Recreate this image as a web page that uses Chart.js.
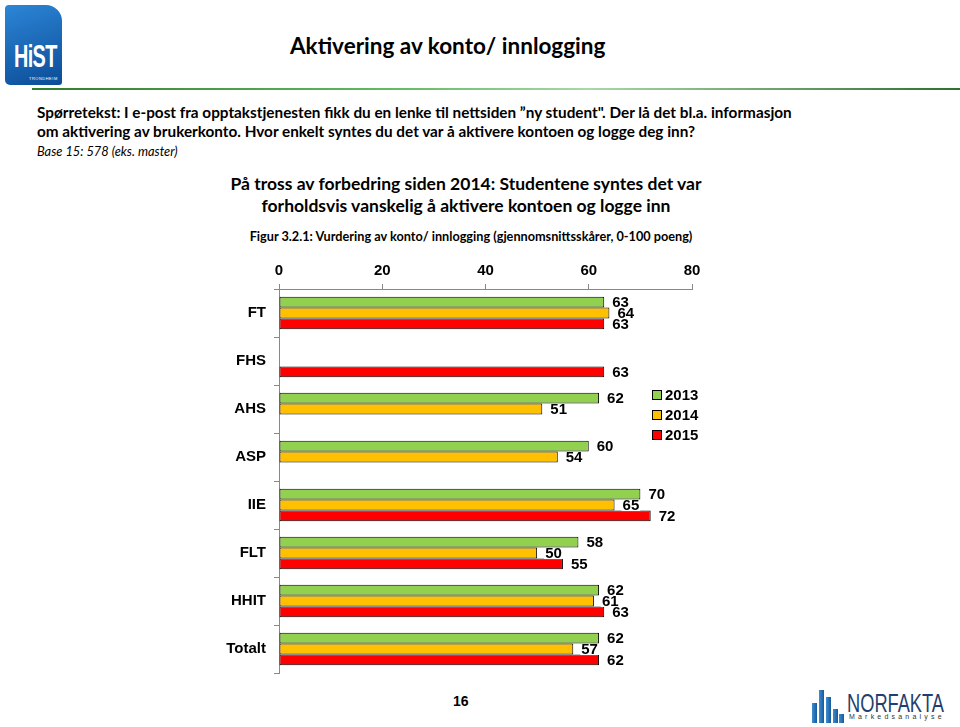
<!DOCTYPE html>
<html>
<head>
<meta charset="utf-8">
<script src="https://cdn.jsdelivr.net/npm/chart.js@4"></script>
<style>
  body { margin: 0; background: #fff; }
  .page { position: relative; width: 960px; height: 727px; overflow: hidden; font-family: Lato, "Open Sans", sans-serif; color: #000; }
  .abs { position: absolute; white-space: nowrap; }
  .hist { left: 5px; top: 5px; width: 57px; height: 80px; border-radius: 4px 16px 3px 5px; background: linear-gradient(160deg, #2c86d6, #0b4c98); }
  .hist b { position: absolute; left: 9px; top: 33px; color: #fff; font: bold 32px "Liberation Sans", Arial, sans-serif; letter-spacing: -1px; transform: scaleX(0.62); transform-origin: 0 0; }
  .hist i { position: absolute; left: 24px; top: 71px; color: #fff; font: normal 4px "Liberation Sans", Arial; letter-spacing: 0.5px; }
  .rule { left: 32px; top: 88px; width: 928px; height: 2px; background: linear-gradient(90deg, #2f7d2f 0%, #66bb66 40%, #a8d8a8 60%, #2f6f2f 100%); }
  .title { left: 290px; top: 32px; font-size: 22.5px; font-weight: bold; }
  .q { left: 37px; top: 103px; font-size: 15.3px; font-weight: bold; line-height: 19px; }
  .base { left: 37px; top: 143px; font-size: 12.8px; font-style: italic; }
  .sub { left: 200px; top: 173px; width: 532px; text-align: center; font-size: 17.5px; font-weight: bold; line-height: 22px; white-space: normal; }
  .fig { left: 200px; top: 228px; width: 542px; text-align: center; font-size: 12.7px; font-weight: bold; }
  #chartBox { left: 200px; top: 255px; width: 520px; height: 435px; }
  .legend { left: 652px; top: 385px; font: bold 15px "Liberation Sans", Arial, sans-serif; }
  .legend div { height: 20px; line-height: 20px; }
  .legend span { display: inline-block; width: 8px; height: 8px; border: 1px solid #000; margin-right: 3px; vertical-align: 0px; }
  .pnum { left: 453px; top: 693px; font: bold 14px "Liberation Sans", Arial, sans-serif; }
  .nf-bars { left: 812px; top: 690px; width: 32px; height: 33px; }
  .nf-bars div { position: absolute; bottom: 0; width: 5px; background: linear-gradient(90deg, #3f8ed0, #155a9e); }
  .nf-name { left: 847px; top: 689px; font: 25px "Liberation Sans", Arial, sans-serif; color: #1f3f6e; transform: scaleX(0.73); transform-origin: 0 0; }
  .nf-sub { left: 849px; top: 713px; font: 7px "Liberation Sans", Arial, sans-serif; color: #333; letter-spacing: 3.2px; }
</style>
</head>
<body>
<div class="page">
  <div class="abs hist"><b>HiST</b><i>TRONDHEIM</i></div>
  <div class="abs rule"></div>
  <div class="abs title">Aktivering av konto/ innlogging</div>
  <div class="abs q">Spørretekst: I e-post fra opptakstjenesten fikk du en lenke til nettsiden ”ny student". Der lå det bl.a. informasjon<br>om aktivering av brukerkonto. Hvor enkelt syntes du det var å aktivere kontoen og logge deg inn?</div>
  <div class="abs base">Base 15: 578 (eks. master)</div>
  <div class="abs sub">På tross av forbedring siden 2014: Studentene syntes det var forholdsvis vanskelig å aktivere kontoen og logge inn</div>
  <div class="abs fig">Figur 3.2.1: Vurdering av konto/ innlogging (gjennomsnittsskårer, 0-100 poeng)</div>
  <div class="abs" id="chartBox"><canvas id="myChart" width="520" height="435"></canvas></div>
  <div class="abs legend" id="legend"></div>
  <div class="abs pnum">16</div>
  <div class="abs nf-bars">
    <div style="left:0;height:20px"></div><div style="left:7px;height:33px"></div><div style="left:14px;height:26px"></div><div style="left:21px;height:14px"></div><div style="left:27px;height:9px"></div>
  </div>
  <div class="abs nf-name">NORFAKTA</div>
  <div class="abs nf-sub">Markedsanalyse</div>
</div>

<script>
// data
const categories = ['FT', 'FHS', 'AHS', 'ASP', 'IIE', 'FLT', 'HHIT', 'Totalt'];
const years = ['2013', '2014', '2015'];
const v2013 = [63, null, 62, 60, 70, 58, 62, 62];
const v2014 = [64, null, 51, 54, 65, 50, 61, 57];
const v2015 = [63, 63, null, null, 72, 55, 63, 62];
const xTicks = [0, 20, 40, 60, 80];
const colors = ['#92D050', '#FFC000', '#FF0000'];

const series = [v2013, v2014, v2015];
const labelFont = 'bold 15px "Liberation Sans", Arial, sans-serif';

// legend
document.getElementById('legend').innerHTML = years.map((y, i) =>
  '<div><span style="background:' + colors[i] + '"></span>' + y + '</div>').join('');

// tall etter stolpene
const valueLabels = {
  id: 'valueLabels',
  afterDatasetsDraw(chart) {
    const ctx = chart.ctx;
    ctx.save();
    ctx.font = labelFont;
    ctx.textBaseline = 'middle';
    chart.data.datasets.forEach((ds, i) => {
      chart.getDatasetMeta(i).data.forEach((bar, j) => {
        const v = ds.data[j];
        if (v == null) return;
        const txt = String(v);
        const w = ctx.measureText(txt).width;
        const x = bar.x + 8;
        ctx.fillStyle = '#fff';
        ctx.fillRect(x - 1, bar.y - 5, w + 2, 11);
        ctx.fillStyle = '#000';
        ctx.fillText(txt, x, bar.y + 1);
      });
    });
    ctx.restore();
  }
};

const ctx = document.getElementById('myChart').getContext('2d');
const myChart = new Chart(ctx, {
  type: 'bar',
  data: {
    labels: categories,
    datasets: series.map((d, i) => ({
      label: years[i],
      data: d,
      backgroundColor: colors[i],
      borderColor: '#000',
      borderWidth: 1,
      borderSkipped: false,
      categoryPercentage: 0.68,
      barPercentage: 1
    }))
  },
  options: {
    indexAxis: 'y',
    responsive: false,
    animation: false,
    layout: { padding: { left: 0, right: 28, top: 0, bottom: 10 } },
    plugins: { legend: { display: false }, tooltip: { enabled: false } },
    scales: {
      x: {
        position: 'top',
        min: 0,
        max: 80,
        afterBuildTicks: s => { s.ticks = xTicks.map(v => ({ value: v })); },
        afterFit: s => { s.height = 34; },
        ticks: { color: '#000', font: { family: '"Liberation Sans", Arial', size: 15, weight: 'bold' }, padding: 4 },
        grid: { drawOnChartArea: false, drawTicks: true, tickLength: 5, color: '#888' },
        border: { color: '#888' }
      },
      y: {
        afterFit: s => { s.width = 79; },
        ticks: { color: '#000', font: { family: '"Liberation Sans", Arial', size: 15, weight: 'bold' }, padding: 8 },
        grid: { offset: true, drawOnChartArea: false, drawTicks: true, tickLength: 5, color: '#888' },
        border: { color: '#888' }
      }
    }
  },
  plugins: [valueLabels]
});
</script>
</body>
</html>
